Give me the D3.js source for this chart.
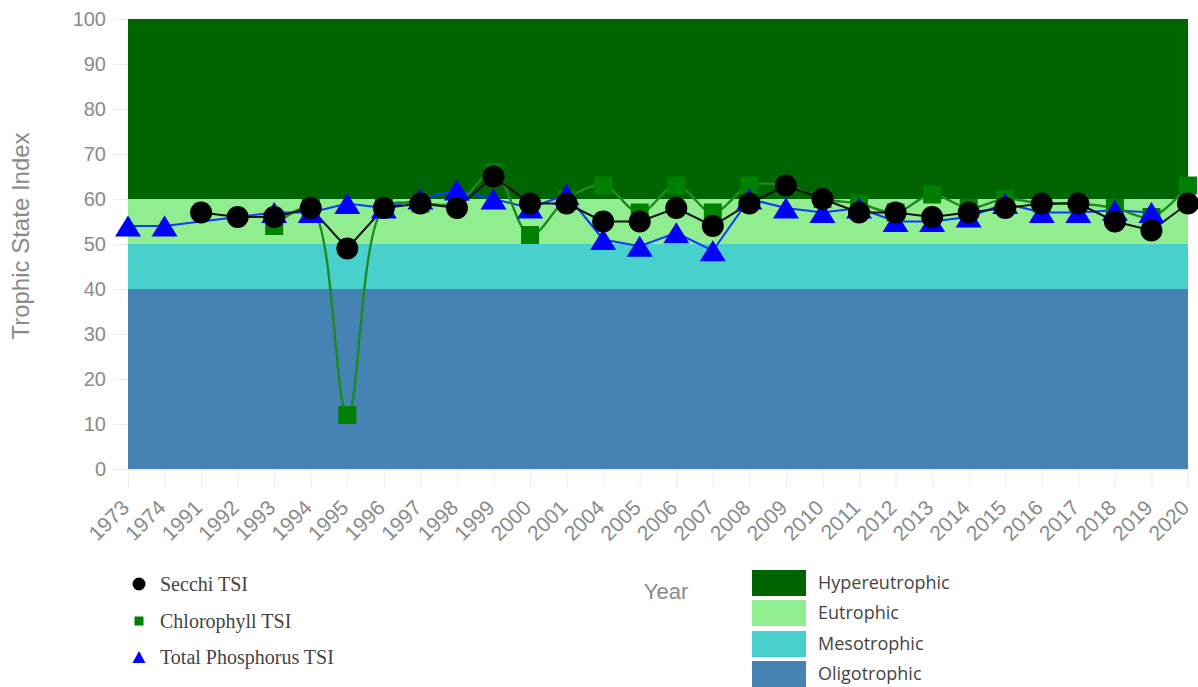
<!DOCTYPE html>
<html><head><meta charset="utf-8">
<script src="https://cdn.jsdelivr.net/npm/d3@7"></script>
<style>body{margin:0;background:#fff;}svg{display:block;}</style>
</head><body>
<svg id="c" width="1198" height="687"></svg>
<script>
const years = ["1973","1974","1991","1992","1993","1994","1995","1996","1997","1998","1999","2000","2001","2004","2005","2006","2007","2008","2009","2010","2011","2012","2013","2014","2015","2016","2017","2018","2019","2020"];
const secchi = [null,null,57,56,56,58,49,58,59,58,65,59,59,55,55,58,54,59,63,60,57,57,56,57,58,59,59,55,53,59];
const chlorophyll = [null,null,null,null,54,58,12,58,59,59,66,52,60,63,57,63,57,63,63,60,59,57,61,58,60,59,59,58,56,63];
const phosphorus = [54,54,null,null,57,57,59,58,60,62,60,58,61,51,49.5,52.5,48.5,60,58,57,58,55,55,56,59,57,57,57.5,57,null];
const yTicks = [0,10,20,30,40,50,60,70,80,90,100];
const bandNames = ["Hypereutrophic","Eutrophic","Mesotrophic","Oligotrophic"];
const bandLow = [60,50,40,0];
const bandHigh = [100,60,50,40];
const bandColors = ["#006400","#90EE90","#48D1CC","#4682B4"];

const svg = d3.select("#c");
const L=128,R=1188,T=19,B=469;
const x = d3.scalePoint().domain(years).range([L,R]);
const y = d3.scaleLinear().domain([0,100]).range([B,T]);
const sans = "Liberation Sans, Arial, sans-serif";

// y axis
svg.append("g").attr("transform",`translate(${L},0)`)
  .call(d3.axisLeft(y).tickValues(yTicks).tickSize(15).tickPadding(7))
  .call(g=>g.select(".domain").remove())
  .call(g=>g.selectAll("line").attr("stroke","#ececec"))
  .call(g=>g.selectAll("text").attr("fill","#8a8a8a").style("font-family",sans).style("font-size","20px"));

// bands
svg.append("g").selectAll("rect").data(bandNames).join("rect")
  .attr("x",L).attr("width",R-L)
  .attr("y",(d,i)=>y(bandHigh[i])).attr("height",(d,i)=>y(bandLow[i])-y(bandHigh[i]))
  .attr("fill",(d,i)=>bandColors[i]);

// x axis
const xa = svg.append("g").attr("transform",`translate(0,${B})`)
  .call(d3.axisBottom(x).tickSize(20))
  .call(g=>g.select(".domain").attr("stroke","#e6e6e6"))
  .call(g=>g.selectAll("line").attr("stroke","#ededed"));
xa.selectAll(".tick text").attr("fill","#8a8a8a").style("font-family",sans).style("font-size","21px")
  .attr("text-anchor","end").attr("x",0).attr("y",0).attr("dy",null)
  .attr("transform","translate(2,40) rotate(-45)");

function pts(arr){return arr.map((v,i)=>({k:years[i],v})).filter(d=>d.v!==null);}

const lineStraight = d3.line().x(d=>x(d.k)).y(d=>y(d.v));
const lineCurve = d3.line().x(d=>x(d.k)).y(d=>y(d.v)).curve(d3.curveCatmullRom.alpha(0.5));

// lines
svg.append("path").datum(pts(phosphorus)).attr("d",lineStraight).attr("fill","none").attr("stroke","#0a3cff").attr("stroke-width",2);
svg.append("path").datum(pts(chlorophyll)).attr("d",lineCurve).attr("fill","none").attr("stroke","#1f8a1f").attr("stroke-width",2.4);
svg.append("path").datum(pts(secchi)).attr("d",lineStraight).attr("fill","none").attr("stroke","#111").attr("stroke-width",2);

// markers
const triPath = (w,h)=>`M0,${-h/2}L${w/2},${h/2}L${-w/2},${h/2}Z`;
svg.append("g").selectAll("path").data(pts(chlorophyll)).join("path")
  .attr("transform",d=>`translate(${x(d.k)},${y(d.v)})`)
  .attr("d",d3.symbol(d3.symbolSquare,324)).attr("fill","#008000");
svg.append("g").selectAll("path").data(pts(phosphorus)).join("path")
  .attr("transform",d=>`translate(${x(d.k)},${y(d.v)})`)
  .attr("d",triPath(26,21)).attr("fill","#0000ff");
svg.append("g").selectAll("circle").data(pts(secchi)).join("circle")
  .attr("cx",d=>x(d.k)).attr("cy",d=>y(d.v)).attr("r",11).attr("fill","#000");

// axis titles
svg.append("text").attr("transform","translate(29,236) rotate(-90)").attr("text-anchor","middle")
  .attr("fill","#8a8a8a").style("font-family",sans).style("font-size","24px").text("Trophic State Index");
svg.append("text").attr("x",666).attr("y",599).attr("text-anchor","middle")
  .attr("fill","#8a8a8a").style("font-family",sans).style("font-size","22px").text("Year");

// series legend
const sNames = ["Secchi TSI","Chlorophyll TSI","Total Phosphorus TSI"];
const sy = [584,621,657];
const lg = svg.append("g");
lg.append("circle").attr("cx",139).attr("cy",sy[0]).attr("r",6.5).attr("fill","#000");
lg.append("rect").attr("x",134.5).attr("y",sy[1]-4.5).attr("width",9).attr("height",9).attr("fill","#008000");
lg.append("path").attr("transform",`translate(139,${sy[2]})`).attr("d",triPath(13,12)).attr("fill","#0000ff");
lg.selectAll("text").data(sNames).join("text").attr("x",160).attr("y",(d,i)=>sy[i]).attr("dy","0.33em")
  .attr("fill","#444").style("font-family","Liberation Serif, serif").style("font-size","20px").text(d=>d);

// band legend
const bl = svg.append("g");
const by = [570,600,631,661];
bl.selectAll("rect").data(bandNames).join("rect").attr("x",752).attr("y",(d,i)=>by[i]).attr("width",54).attr("height",26).attr("fill",(d,i)=>bandColors[i]);
bl.selectAll("text").data(bandNames).join("text").attr("x",818).attr("y",(d,i)=>by[i]+13).attr("dy","0.35em")
  .attr("fill","#444").style("font-family","Open Sans, sans-serif").style("font-size","18px").text(d=>d);
</script>
</body></html>
